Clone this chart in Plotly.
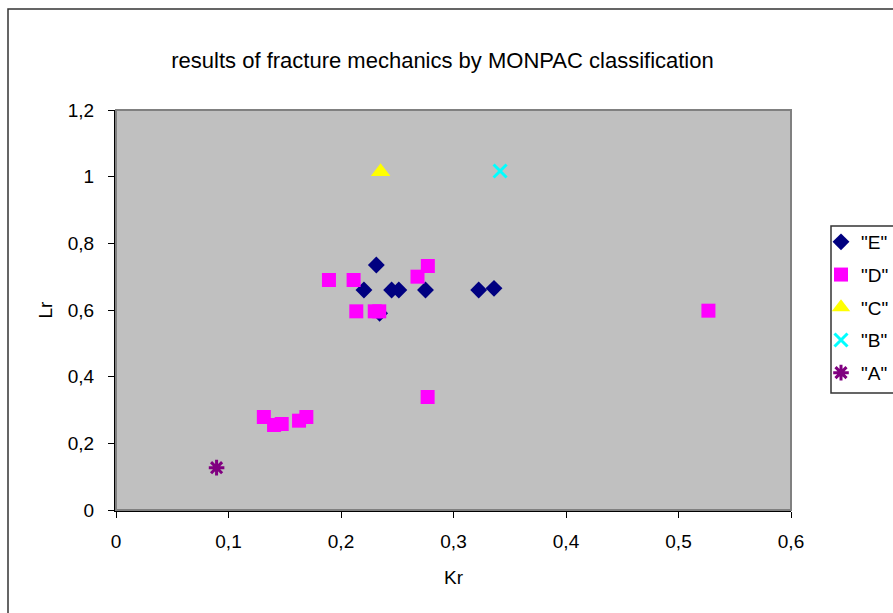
import plotly.graph_objects as go

# Data (Kr, Lr) per MONPAC class
e_kr = [0.2314, 0.2204, 0.2450, 0.2514, 0.2751, 0.3224, 0.3360, 0.2343]
e_lr = [0.735, 0.660, 0.660, 0.660, 0.660, 0.660, 0.665, 0.590]

d_kr = [0.1893, 0.2112, 0.2772, 0.2680, 0.2136, 0.2300, 0.2340, 0.5266, 0.2770,
        0.1314, 0.1405, 0.1473, 0.1627, 0.1692]
d_lr = [0.690, 0.690, 0.732, 0.700, 0.596, 0.596, 0.596, 0.598, 0.339,
        0.279, 0.255, 0.258, 0.268, 0.279]

c_kr = [0.2352]
c_lr = [1.015]

b_kr = [0.3414]
b_lr = [1.017]

a_kr = [0.0894]
a_lr = [0.127]

series_names = ['"E"', '"D"', '"C"', '"B"', '"A"']
x_ticks = [0, 0.1, 0.2, 0.3, 0.4, 0.5, 0.6]
y_ticks = [0, 0.2, 0.4, 0.6, 0.8, 1.0, 1.2]

FONT = "Liberation Sans, Arial, sans-serif"

fig = go.Figure()
fig.add_trace(go.Scatter(x=e_kr, y=e_lr, mode="markers", name=series_names[0], legendgroup="E",
                         marker=dict(symbol="diamond", size=13, color="#000080",
                                     line=dict(width=0))))
fig.add_trace(go.Scatter(x=d_kr, y=d_lr, mode="markers", name=series_names[1], legendgroup="D",
                         marker=dict(symbol="square", size=14, color="#FF00FF",
                                     line=dict(width=0))))
fig.add_trace(go.Scatter(x=c_kr, y=c_lr, mode="markers", name=series_names[2], legendgroup="C",
                         marker=dict(symbol="triangle-up", size=17, color="#FFFF00",
                                     line=dict(width=0))))
fig.add_trace(go.Scatter(x=b_kr, y=b_lr, mode="markers", name=series_names[3], legendgroup="B",
                         marker=dict(symbol="x-thin", size=13, color="#00FFFF",
                                     line=dict(width=3, color="#00FFFF"))))
fig.add_trace(go.Scatter(x=a_kr, y=a_lr, mode="markers", name=series_names[4], legendgroup="A",
                         marker=dict(symbol="asterisk", size=13, color="#800080",
                                     line=dict(width=3, color="#800080"))))

L, R, T, B = 116, 102, 110, 103
W, H = 893, 613
pw, ph = W - L - R, H - T - B

def px_x(p):
    return (p - L) / pw

def px_y(p):
    return (H - B - p) / ph

fig.update_layout(
    width=W, height=H,
    margin=dict(l=L, r=R, t=T, b=B, autoexpand=False),
    paper_bgcolor="white",
    plot_bgcolor="#C0C0C0",
    separators=",.",
    font=dict(family=FONT, size=19, color="black"),
    title=dict(text="results of fracture mechanics by MONPAC classification",
               font=dict(family=FONT, size=22, color="black"),
               x=442.5 / W, xref="container", xanchor="center",
               y=1 - 60 / H, yref="container", yanchor="middle"),
    xaxis=dict(range=[0, 0.6], tickvals=x_ticks, showgrid=False, zeroline=False,
               showline=True, linecolor="black", linewidth=2,
               ticks="outside", ticklen=6, tickcolor="black", tickwidth=1,
               ticklabelstandoff=7,
               title=dict(text="Kr", font=dict(family=FONT, size=19), standoff=20)),
    yaxis=dict(range=[0, 1.2], tickvals=y_ticks, showgrid=False, zeroline=False,
               showline=True, linecolor="black", linewidth=2,
               ticks="outside", ticklen=6, tickcolor="black", tickwidth=1,
               ticklabelstandoff=10,
               title=dict(text="Lr", font=dict(family=FONT, size=19), standoff=10)),
    legend=dict(x=px_x(821), y=px_y(223), xanchor="left", yanchor="top",
                bgcolor="rgba(0,0,0,0)", borderwidth=0,
                font=dict(family=FONT, size=19, color="black"),
                tracegroupgap=5, itemsizing="trace", itemwidth=30),
    shapes=[
        # plot area border (gray)
        dict(type="rect", xref="paper", yref="paper", x0=0, y0=0, x1=1, y1=1,
             line=dict(color="#808080", width=2), layer="above"),
        # outer chart frame
        dict(type="rect", xref="paper", yref="paper",
             x0=px_x(8), y0=px_y(630), x1=px_x(920), y1=px_y(9),
             line=dict(color="#333333", width=1.5), layer="below"),
        # legend box
        dict(type="rect", xref="paper", yref="paper",
             x0=px_x(831), y0=px_y(393), x1=px_x(920), y1=px_y(226),
             fillcolor="white", line=dict(color="#333333", width=1.5), layer="below"),
    ],
)

fig.write_html("out.html")
